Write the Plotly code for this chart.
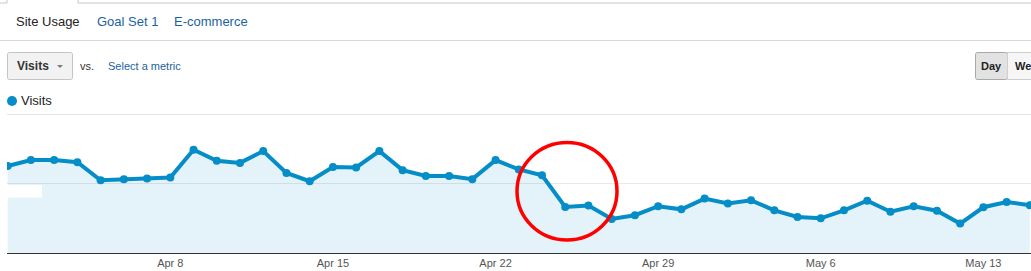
import plotly.graph_objects as go

dates = [
    "2012-04-01", "2012-04-02", "2012-04-03", "2012-04-04", "2012-04-05", "2012-04-06", "2012-04-07",
    "2012-04-08", "2012-04-09", "2012-04-10", "2012-04-11", "2012-04-12", "2012-04-13", "2012-04-14",
    "2012-04-15", "2012-04-16", "2012-04-17", "2012-04-18", "2012-04-19", "2012-04-20", "2012-04-21",
    "2012-04-22", "2012-04-23", "2012-04-24", "2012-04-25", "2012-04-26", "2012-04-27", "2012-04-28",
    "2012-04-29", "2012-04-30", "2012-05-01", "2012-05-02", "2012-05-03", "2012-05-04", "2012-05-05",
    "2012-05-06", "2012-05-07", "2012-05-08", "2012-05-09", "2012-05-10", "2012-05-11", "2012-05-12",
    "2012-05-13", "2012-05-14", "2012-05-15",
]
visits = [
    251, 268, 268, 262, 210, 213, 215,
    218, 298, 266, 260, 294, 231, 207,
    248, 247, 294, 239, 222, 222, 213,
    268, 241, 224, 133, 137, 98, 109,
    135, 126, 157, 143, 152, 123, 104,
    100, 123, 151, 119, 135, 122, 85,
    132, 147, 138,
]
tick_dates = ["2012-04-08", "2012-04-15", "2012-04-22", "2012-04-29", "2012-05-06", "2012-05-13"]
tick_labels = ["Apr 8", "Apr 15", "Apr 22", "Apr 29", "May 6", "May 13"]

W, H = 1031, 271
L, R, T, B = 7, 1031, 114, 253
FONT = "Arial, Liberation Sans, sans-serif"
BLUE = "#058dc7"


def px(x):
    return (x - L) / (R - L)


def py(y):
    return (B - y) / (B - T)


fig = go.Figure()
fig.add_trace(go.Scatter(
    x=dates, y=visits, mode="lines+markers",
    line=dict(color=BLUE, width=4),
    marker=dict(color=BLUE, size=8),
    fill="tozeroy", fillcolor="rgba(5,141,199,0.11)",
    hoverinfo="x+y", showlegend=False,
))

shapes = []
annotations = []

# top tab borders
for (x0, y0, x1, y1) in [(0, 3, 7, 3), (7, 0, 7, 3), (78, 0, 78, 3), (78, 3, 1031, 3)]:
    shapes.append(dict(type="line", xref="paper", yref="paper", x0=px(x0), y0=py(y0), x1=px(x1), y1=py(y1),
                       line=dict(color="#c8c8c8", width=1)))
# separator under tabs
shapes.append(dict(type="line", xref="paper", yref="paper", x0=px(0), y0=py(40.5), x1=px(1031), y1=py(40.5),
                   line=dict(color="#d6d6d6", width=1)))
# top grid line of chart
shapes.append(dict(type="line", xref="paper", yref="paper", x0=px(7), y0=py(114.5), x1=px(1031), y1=py(114.5),
                   line=dict(color="#e6e6e6", width=1), layer="below"))


def rrect(x0, y0, x1, y1, r, fill, border):
    p = (f"M {px(x0 + r)} {py(y0)} L {px(x1 - r)} {py(y0)} Q {px(x1)} {py(y0)} {px(x1)} {py(y0 + r)} "
         f"L {px(x1)} {py(y1 - r)} Q {px(x1)} {py(y1)} {px(x1 - r)} {py(y1)} "
         f"L {px(x0 + r)} {py(y1)} Q {px(x0)} {py(y1)} {px(x0)} {py(y1 - r)} "
         f"L {px(x0)} {py(y0 + r)} Q {px(x0)} {py(y0)} {px(x0 + r)} {py(y0)} Z")
    return dict(type="path", xref="paper", yref="paper", path=p, fillcolor=fill,
                line=dict(color=border, width=1), layer="above")


# Visits dropdown button
shapes.append(rrect(7.5, 52.5, 72.5, 79.5, 2, "#f2f2f2", "#c4c4c4"))
shapes.append(dict(type="path", xref="paper", yref="paper",
                   path=f"M {px(57)} {py(65)} L {px(63)} {py(65)} L {px(60)} {py(68)} Z",
                   fillcolor="#7a7a7a", line=dict(width=0), layer="above"))
# Day / Week buttons
shapes.append(rrect(975.5, 52.5, 1007.5, 79.5, 2, "#e2e2e2", "#a8a8a8"))
shapes.append(dict(type="rect", xref="paper", yref="paper", x0=px(1007.5), y0=py(52.5), x1=px(1040), y1=py(79.5),
                   fillcolor="#f6f6f6", line=dict(color="#cfcfcf", width=1), layer="above"))

# legend dot
shapes.append(dict(type="circle", xref="paper", yref="paper", x0=px(7), y0=py(96), x1=px(17), y1=py(106),
                   fillcolor=BLUE, line=dict(width=0)))

# white label box on y axis
shapes.append(dict(type="rect", xref="paper", yref="paper", x0=px(7), y0=py(185), x1=px(42), y1=py(197.5),
                   fillcolor="white", line=dict(width=0), layer="above"))

# red highlight circle
shapes.append(dict(type="circle", xref="paper", yref="paper", x0=px(517), y0=py(240), x1=px(617), y1=py(142.5),
                   line=dict(color="#ff0000", width=3.5), layer="above"))


def txt(x, y, s, size, color, bold=False, anchor="left"):
    annotations.append(dict(xref="paper", yref="paper", x=px(x), y=py(y), text=f"<b>{s}</b>" if bold else s,
                            showarrow=False, xanchor=anchor, yanchor="middle",
                            font=dict(family=FONT, size=size, color=color)))


txt(14, 22, "Site Usage", 13, "#222222")
txt(95, 22, "Goal Set 1", 13, "#1c62a0")
txt(172, 22, "E-commerce", 13, "#1c62a0")
txt(15, 66, "Visits", 12, "#333333", bold=True)
txt(78, 66, "vs.", 11, "#333333")
txt(106, 66, "Select a metric", 11, "#1c62a0")
txt(991, 66, "Day", 11, "#222222", bold=True, anchor="center")
txt(1013, 66, "We", 11, "#222222", bold=True)
txt(19, 101, "Visits", 13, "#222222")

fig.update_layout(
    width=W, height=H,
    margin=dict(l=L, r=W - R, t=T, b=H - B, pad=0),
    paper_bgcolor="white", plot_bgcolor="white",
    shapes=shapes, annotations=annotations,
    font=dict(family=FONT, size=11, color="#555555"),
    xaxis=dict(
        type="date",
        range=["2012-03-31 23:17", "2012-05-15 01:12"],
        tickvals=tick_dates, ticktext=tick_labels,
        showgrid=False, showline=True, linecolor="#333333", linewidth=1,
        ticks="", tickfont=dict(family=FONT, size=11, color="#555555"),
        zeroline=False, fixedrange=True,
    ),
    yaxis=dict(
        range=[0, 401], tickvals=[0, 200, 400], showticklabels=False,
        showgrid=True, gridcolor="#e8e8e8", gridwidth=1,
        zeroline=False, showline=False, fixedrange=True,
    ),
    showlegend=False,
)

fig.write_html("out.html", config={"displayModeBar": False})
